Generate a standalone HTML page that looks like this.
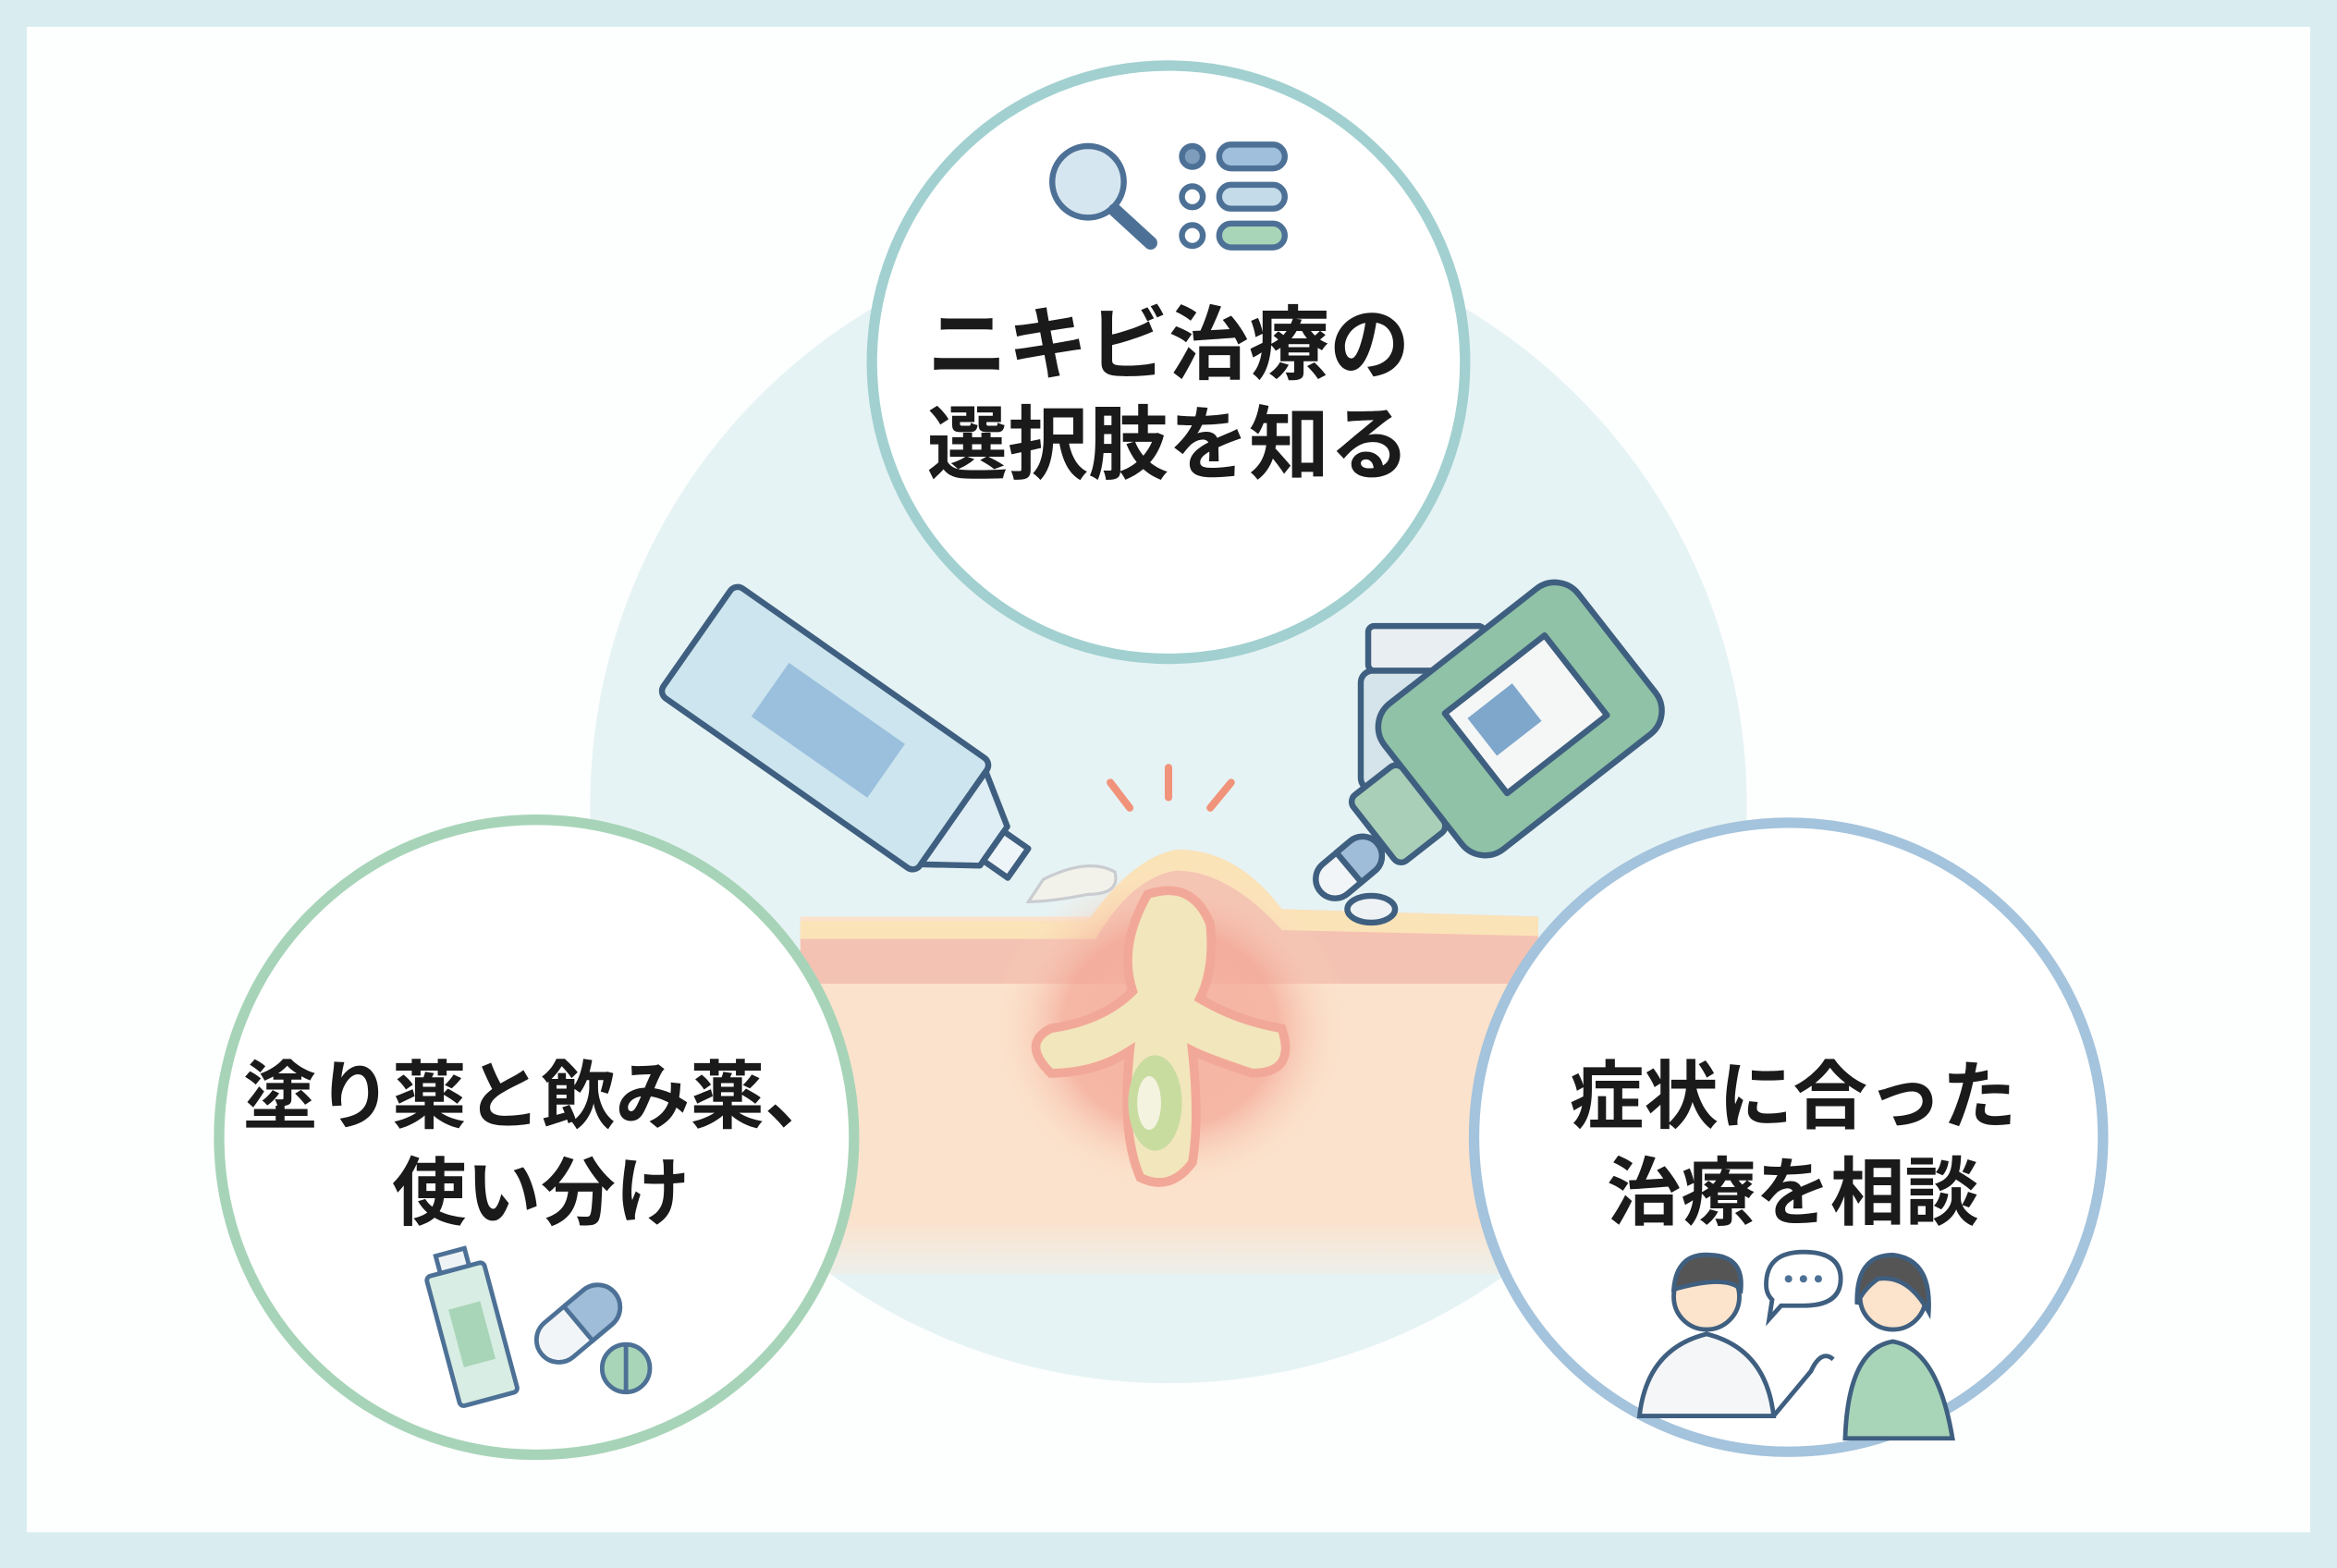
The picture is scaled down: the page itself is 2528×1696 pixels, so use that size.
<!DOCTYPE html>
<html><head><meta charset="utf-8"><style>
html,body{margin:0;padding:0;background:#fff}
svg{display:block}
text{font-family:"Liberation Sans","Noto Sans CJK JP",sans-serif;font-weight:bold;fill:#1a1a1a}
</style></head><body>
<svg width="2528" height="1696" viewBox="0 0 1568 1052" preserveAspectRatio="none" xmlns="http://www.w3.org/2000/svg">
<defs>
<radialGradient id="glow" cx="50%" cy="50%" r="50%">
<stop offset="0%" stop-color="#f6b8a8"/><stop offset="60%" stop-color="#f3a594" stop-opacity="0.7"/><stop offset="100%" stop-color="#fbe3cc" stop-opacity="0"/>
</radialGradient>
<linearGradient id="skinfade" x1="0" y1="0" x2="0" y2="1">
<stop offset="0" stop-color="#fbe2cc"/><stop offset="0.85" stop-color="#fbe2cc"/><stop offset="1" stop-color="#fbe6d2" stop-opacity="0.3"/>
</linearGradient>
</defs>
<rect x="0" y="0" width="1568" height="1052" fill="#d9edf0"/>
<rect x="18" y="18" width="1532" height="1010" fill="#fdfefe"/>
<circle cx="784" cy="540" r="388" fill="#e6f3f4"/>

<rect x="537" y="615" width="495" height="240" fill="url(#skinfade)"/>
<path d="M537 618 L730 618 Q760 575 790 570 Q830 570 860 610 L1032 615 L1032 660 L537 660 Z" fill="#f4c2b2"/>
<path d="M537 618 L730 618 Q760 575 790 570 Q830 570 860 610 L1032 615 L1032 628 L860 624 Q825 585 790 584 Q760 588 735 630 L537 630 Z" fill="#fbe3b8"/>
<ellipse cx="785" cy="690" rx="120" ry="110" fill="url(#glow)"/>
<path d="M770 600 Q800 590 812 620 Q815 650 805 670 Q830 685 860 690 Q870 720 840 720 Q810 710 800 705 Q805 750 800 780 Q785 800 765 790 Q752 760 758 705 Q735 720 705 720 Q685 700 705 690 Q740 685 760 665 Q750 635 770 600 Z" fill="#f2e6bc" stroke="#f2a898" stroke-width="6"/>
<ellipse cx="775" cy="740" rx="18" ry="32" fill="#c8dca0"/>
<ellipse cx="771" cy="740" rx="8" ry="18" fill="#f4f3e0"/>
<g stroke="#f0937a" stroke-width="5" stroke-linecap="round">
<line x1="784" y1="515" x2="784" y2="535"/><line x1="745" y1="525" x2="758" y2="542"/><line x1="826" y1="525" x2="812" y2="542"/>
</g>

<g transform="translate(570,500) rotate(35)" stroke="#3f5f80" stroke-width="4" stroke-linejoin="round">
<rect x="-125" y="-45" width="210" height="90" rx="6" fill="#cde5ee"/>
<rect x="-65" y="-22" width="95" height="44" fill="#9bc0de" stroke="none"/>
<path d="M85 -38 L118 -16 L118 16 L85 38 Z" fill="#dfeef4"/>
<rect x="118" y="-12" width="20" height="24" fill="#eef5f8"/>
</g>
<path d="M700 590 Q730 575 748 585 Q752 600 730 600 Q705 605 690 605 Z" fill="#f3f2ea" stroke="#c9ccd0" stroke-width="2"/>

<g stroke="#3f5f80" stroke-width="4" stroke-linejoin="round">
<rect x="918" y="420" width="78" height="30" rx="4" fill="#e9eef2"/>
<rect x="913" y="450" width="88" height="80" rx="8" fill="#d5e3ea"/>
<g transform="translate(1010,490) rotate(-38)">
<rect x="-70" y="-62" width="165" height="124" rx="20" fill="#8fc2a6"/>
<rect x="-25" y="-34" width="85" height="68" fill="#f4f7f6"/>
<rect x="-15" y="-22" width="38" height="32" fill="#7fa7cc" stroke="none"/>
<rect x="-112" y="-28" width="42" height="56" rx="6" fill="#a9cfb8"/>
</g>
<g transform="translate(905,582) rotate(-40)">
<rect x="-25" y="-13" width="50" height="26" rx="13" fill="#f2f5f7"/>
<path d="M0 -13 L12 -13 A13 13 0 0 1 12 13 L0 13 Z" fill="#9fbdd8"/>
</g>
<ellipse cx="920" cy="610" rx="16" ry="9" fill="#eef2f5"/>
</g>

<circle cx="784" cy="243" r="199" fill="#fff" stroke="#a2d0d0" stroke-width="7"/>
<circle cx="360" cy="763" r="213" fill="#fff" stroke="#a7d4b8" stroke-width="7"/>
<circle cx="1200" cy="763" r="211" fill="#fff" stroke="#a4c3dc" stroke-width="7"/>

<g stroke="#4d7196" stroke-width="4" fill="none">
<circle cx="730" cy="122" r="24" fill="#d6e6f0"/>
<line x1="748" y1="141" x2="772" y2="163" stroke-width="9" stroke-linecap="round"/>
<circle cx="800" cy="105" r="7" fill="#7e9cbc"/><circle cx="800" cy="132" r="7"/><circle cx="800" cy="158" r="7"/>
<rect x="818" y="97" width="44" height="16" rx="8" fill="#9fbfdc"/>
<rect x="818" y="124" width="44" height="16" rx="8" fill="#c4dbe9"/>
<rect x="818" y="150" width="44" height="16" rx="8" fill="#a8d5b8"/>
</g>
<text x="784" y="250" font-size="54" text-anchor="middle">ニキビ治療の</text>
<text x="784" y="317" font-size="54" text-anchor="middle">選択肢を知る</text>

<text x="363" y="753" font-size="50" text-anchor="middle">塗り薬と飲み薬、</text>
<text x="363" y="818" font-size="50" text-anchor="middle">使い分け</text>
<g stroke="#4d7196" stroke-width="3">
<g transform="translate(318,900) rotate(-15)">
<rect x="-20" y="-50" width="40" height="90" rx="3" fill="#d8ede3"/>
<rect x="-11" y="-25" width="22" height="40" fill="#a8d5b8" stroke="none"/>
<rect x="-10" y="-62" width="20" height="12" fill="#eef4f6"/>
</g>
<g transform="translate(388,888) rotate(-40)">
<rect x="-32" y="-15" width="64" height="30" rx="15" fill="#f2f5f7"/>
<path d="M0 -15 L17 -15 A15 15 0 0 1 17 15 L0 15 Z" fill="#9fbdd8"/>
</g>
<circle cx="420" cy="918" r="16" fill="#a8d5b8"/><line x1="420" y1="902" x2="420" y2="934"/>
</g>

<text x="1203" y="753" font-size="50" text-anchor="middle">症状に合った</text>
<text x="1203" y="818" font-size="50" text-anchor="middle">治療を相談</text>
<g stroke="#3f5f80" stroke-width="3">
<path d="M1100 950 Q1105 905 1145 895 Q1185 905 1190 950 Z" fill="#f4f6f8"/>
<circle cx="1145" cy="870" r="22" fill="#fbe3cc"/>
<path d="M1123 865 Q1125 840 1148 842 Q1170 843 1168 865 Q1158 855 1123 865 Z" fill="#555"/>
<path d="M1190 950 L1215 920 Q1222 905 1230 912" fill="none"/>
<path d="M1238 965 Q1240 905 1270 900 Q1300 905 1310 965 Z" fill="#a8d5b8"/>
<circle cx="1270" cy="870" r="22" fill="#fbe3cc"/>
<path d="M1246 875 Q1245 842 1270 842 Q1296 845 1294 880 Q1280 855 1260 858 Q1250 865 1246 875 Z" fill="#555"/>
<path d="M1185 862 Q1185 840 1210 840 Q1235 840 1235 858 Q1235 876 1210 876 L1195 876 L1187 885 L1189 872 Q1185 868 1185 862 Z" fill="#fff"/>
</g>
<g fill="#4d7196"><circle cx="1200" cy="858" r="2.5"/><circle cx="1210" cy="858" r="2.5"/><circle cx="1220" cy="858" r="2.5"/></g>
</svg>
</body></html>
